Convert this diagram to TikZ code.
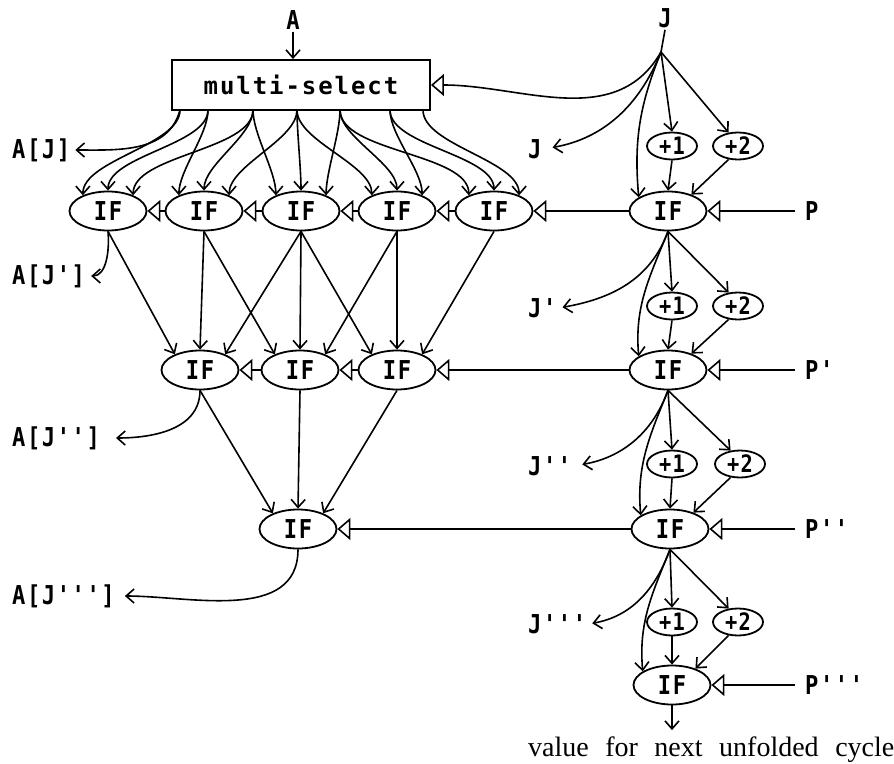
\documentclass[tikz,border=0pt]{standalone}
\usepackage{fontspec}
\usetikzlibrary{arrows.meta,shapes.geometric,calc}
\newfontfamily\labfont[LetterSpace=6,FakeStretch=0.85,Ligatures=TeXOff]{DejaVu Sans Mono}
\newfontfamily\msfont[LetterSpace=8]{DejaVu Sans Mono}
\newfontfamily\valfont{Liberation Serif}
\tikzset{
  lab/.style={font=\labfont\bfseries\fontsize{26}{28}\selectfont, inner sep=2pt},
  ifn/.style={lab, ellipse, draw, line width=1.8pt, minimum width=77pt, minimum height=39pt, inner sep=0pt},
  pln/.style={lab, ellipse, draw, line width=1.8pt, minimum width=50pt, minimum height=27pt, inner sep=0pt, font=\labfont\bfseries\fontsize{24}{26}\selectfont},
  arr/.style={line width=1.6pt, -{Straight Barb[length=8pt,width=14pt]}},
  ctl/.style={line width=1.6pt, -{Triangle[open,length=13pt,width=22pt]}},
  fan/.style={out=-90, in=90, looseness=0.7},
}
\begin{document}
\begin{tikzpicture}[x=1pt,y=-1pt]
\useasboundingbox (0,0) rectangle (894,763);
% ---- multi-select ----
\node[lab] (A) at (293,20) {A};
\node[draw, line width=1.9pt, minimum width=258pt, minimum height=50pt, font=\msfont\bfseries\fontsize{24}{26}\selectfont] (ms) at (301,85) {multi-select};
\draw[arr] (A.south) -- (A.south |- ms.north);
\coordinate (t0) at (180,110);
\coordinate (t1) at (208,110);
\coordinate (t2) at (253,110);
\coordinate (t3) at (297,110);
\coordinate (t4) at (340,110);
\coordinate (t5) at (390,110);
\coordinate (t6) at (423,110);
% ---- IF nodes ----
\node[ifn] (L11) at (108,211) {IF};
\node[ifn] (L12) at (204,211) {IF};
\node[ifn] (L13) at (301,211) {IF};
\node[ifn] (L14) at (397,211) {IF};
\node[ifn] (L15) at (494,211) {IF};
\node[ifn] (L21) at (200,370) {IF};
\node[ifn] (L22) at (300,370) {IF};
\node[ifn] (L23) at (397,370) {IF};
\node[ifn] (L31) at (298,529) {IF};
\node[ifn] (R1) at (668,211) {IF};
\node[ifn] (R2) at (668,370) {IF};
\node[ifn] (R3) at (670,529) {IF};
\node[ifn] (R4) at (672,685) {IF};
% ---- +1 / +2 ----
\node[pln] (pa1) at (672,146) {+1};
\node[pln] (pb1) at (738,146) {+2};
\node[pln] (pa2) at (672,306) {+1};
\node[pln] (pb2) at (738,306) {+2};
\node[pln] (pa3) at (672,464) {+1};
\node[pln] (pb3) at (740,464) {+2};
\node[pln] (pa4) at (672,622) {+1};
\node[pln] (pb4) at (738,622) {+2};
% ---- labels ----
\node[lab, anchor=west] (AJ0) at (10,150) {A[J]};
\node[lab, anchor=west] (AJ1) at (10,276) {A[J']};
\node[lab, anchor=west] (AJ2) at (10,438) {A[J'']};
\node[lab, anchor=west] (AJ3) at (10,596) {A[J''']};
\node[lab] (J) at (665,18) {J};
\coordinate (jb) at (661,52);
\node[lab, anchor=west] (Jo0) at (526,149) {J};
\node[lab, anchor=west] (Jo1) at (526,308) {J'};
\node[lab, anchor=west] (Jo2) at (526,466) {J''};
\node[lab, anchor=west] (Jo3) at (526,624) {J'''};
\node[lab, anchor=west] (P0) at (803,211) {P};
\node[lab, anchor=west] (P1) at (803,370) {P'};
\node[lab, anchor=west] (P2) at (803,529) {P''};
\node[lab, anchor=west] (P3) at (803,685) {P'''};
\node[anchor=base west, inner xsep=0pt, inner ysep=6pt, font=\valfont\fontsize{28}{30}\selectfont] (val) at (528,756) {\spaceskip=16.5pt value for next unfolded cycle};
% ---- multi-select fan-out ----
\draw[arr, shorten >=3pt] (t0) to[out=-105,in=0] (AJ0.east);
\draw[arr] (t0) to[fan] (L11.148);
\draw[arr] (t1) to[fan] (L11.90);
\draw[arr] (t1) to[fan] (L12.148);
\draw[arr] (t2) to[fan] (L11.32);
\draw[arr] (t2) to[fan] (L12.90);
\draw[arr] (t2) to[fan] (L13.148);
\draw[arr] (t3) to[fan] (L12.32);
\draw[arr] (t3) to[fan] (L13.90);
\draw[arr] (t3) to[fan] (L14.148);
\draw[arr] (t4) to[fan] (L13.32);
\draw[arr] (t4) to[fan] (L14.90);
\draw[arr] (t4) to[fan] (L15.148);
\draw[arr] (t5) to[fan] (L14.32);
\draw[arr] (t5) to[fan] (L15.90);
\draw[arr] (t6) to[fan] (L15.32);
% ---- row 1 -> row 2 ----
\draw[arr] (L11.south) -- (L21.148);
\draw[arr] (L12.south) -- (L21.90);
\draw[arr] (L12.south) -- (L22.148);
\draw[arr] (L13.south) -- (L21.32);
\draw[arr] (L13.south) -- (L22.90);
\draw[arr] (L13.south) -- (L23.148);
\draw[arr] (L14.south) -- (L22.32);
\draw[arr] (L14.south) -- (L23.90);
\draw[arr] (L15.south) -- (L23.32);
% ---- row 2 -> row 3 ----
\draw[arr] (L21.south) -- (L31.148);
\draw[arr] (L22.south) -- (L31.90);
\draw[arr] (L23.south) -- (L31.32);
% ---- A outputs ----
\draw[arr, shorten >=4pt] (L11.south) to[out=-85,in=0] (AJ1.east);
\draw[arr, shorten >=14pt] (L21.south) to[out=-90,in=0] (AJ2.east);
\draw[arr, shorten >=8pt] (L31.south) to[out=-90,in=0] (AJ3.east);
% ---- control chains ----
\draw[ctl] (L12.west) -- (L11.east);
\draw[ctl] (L13.west) -- (L12.east);
\draw[ctl] (L14.west) -- (L13.east);
\draw[ctl] (L15.west) -- (L14.east);
\draw[ctl] (R1.west) -- (L15.east);
\draw[ctl, shorten <=8pt] (P0.west) -- (R1.east);
\draw[ctl] (L22.west) -- (L21.east);
\draw[ctl] (L23.west) -- (L22.east);
\draw[ctl] (R2.west) -- (L23.east);
\draw[ctl, shorten <=8pt] (P1.west) -- (R2.east);
\draw[ctl] (R3.west) -- (L31.east);
\draw[ctl, shorten <=8pt] (P2.west) -- (R3.east);
\draw[ctl, shorten <=8pt] (P3.west) -- (R4.east);
% ---- J column ----
\draw[line width=1.6pt] (J.south) -- (jb);
\draw[ctl] (jb) to[out=-120,in=0] (ms.east);
\draw[arr, shorten >=9pt] (jb) to[out=-112,in=10] (Jo0.east);
\draw[arr] (jb) to[out=-112,in=95] (R1.155);
\draw[arr] (jb) -- (pa1.north);
\draw[arr] (jb) -- (pb1.125);
\draw[arr] (pa1.south) -- (R1.north);
\draw[arr] (pb1.235) -- (R1.35);
\draw[arr, shorten >=4pt] (R1.south) to[out=-110,in=10] (Jo1.east);
\draw[arr] (R1.south) to[out=-112,in=95] (R2.155);
\draw[arr] (R1.south) -- (pa2.north);
\draw[arr] (R1.south) -- (pb2.125);
\draw[arr] (pa2.south) -- (R2.north);
\draw[arr] (pb2.235) -- (R2.35);
\draw[arr, shorten >=9pt] (R2.south) to[out=-110,in=10] (Jo2.east);
\draw[arr] (R2.south) to[out=-112,in=95] (R3.155);
\draw[arr] (R2.south) -- (pa3.north);
\draw[arr] (R2.south) -- (pb3.125);
\draw[arr] (pa3.south) -- (R3.north);
\draw[arr] (pb3.235) -- (R3.35);
\draw[arr, shorten >=4pt] (R3.south) to[out=-110,in=10] (Jo3.east);
\draw[arr] (R3.south) to[out=-112,in=95] (R4.155);
\draw[arr] (R3.south) -- (pa4.north);
\draw[arr] (R3.south) -- (pb4.125);
\draw[arr] (pa4.south) -- (R4.north);
\draw[arr] (pb4.235) -- (R4.35);
\draw[arr] (R4.south) -- (R4.south |- val.north);
\end{tikzpicture}
\end{document}
